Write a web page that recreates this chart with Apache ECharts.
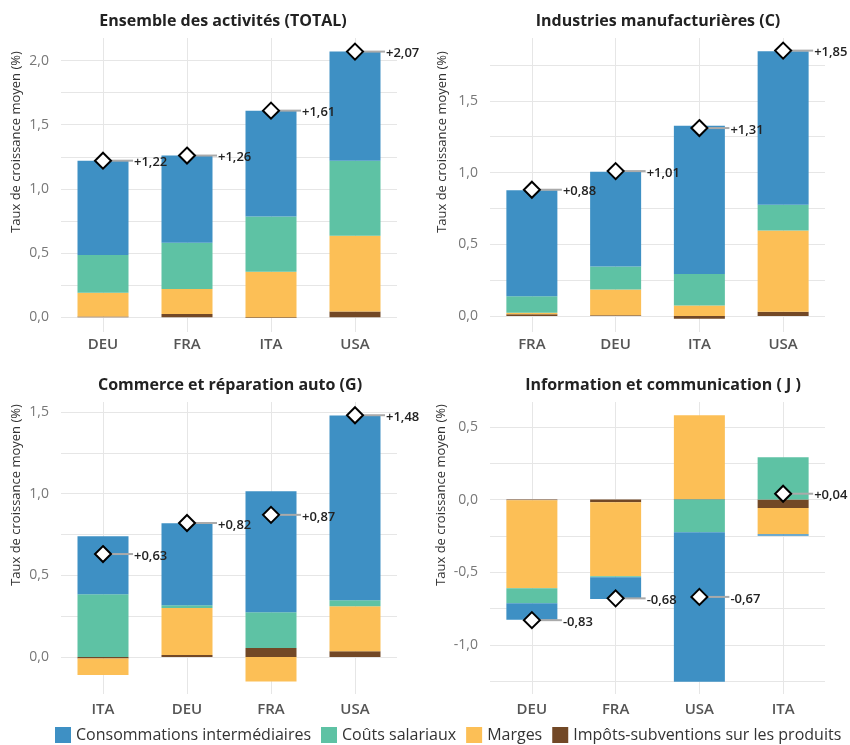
<!DOCTYPE html>
<html>
<head>
<meta charset="utf-8">
<script src="https://cdn.jsdelivr.net/npm/echarts@6/dist/echarts.min.js"></script>
<style>
  html, body { margin: 0; padding: 0; background: #fff; }
  #chart { width: 850px; height: 745px; }
</style>
</head>
<body>
<div id="chart"></div>
<script>
// Ensemble des activités (TOTAL)
var totCats = ['DEU', 'FRA', 'ITA', 'USA'];
var totCI = [0.735, 0.68, 0.825, 0.85];
var totSal = [0.295, 0.36, 0.43, 0.585];
var totMarges = [0.185, 0.195, 0.355, 0.59];
var totImpots = [0.005, 0.025, -0.005, 0.045];
var totSum = [1.22, 1.26, 1.61, 2.07];

// Industries manufacturières (C)
var indCats = ['FRA', 'DEU', 'ITA', 'USA'];
var indCI = [0.74, 0.66, 1.035, 1.07];
var indSal = [0.115, 0.16, 0.22, 0.18];
var indMarges = [0.01, 0.18, 0.072, 0.565];
var indImpots = [0.012, 0.005, -0.02, 0.03];
var indSum = [0.88, 1.01, 1.31, 1.85];

// Commerce et réparation auto (G)
var comCats = ['ITA', 'DEU', 'FRA', 'USA'];
var comCI = [0.355, 0.502, 0.741, 1.131];
var comSal = [0.384, 0.016, 0.219, 0.037];
var comMarges = [-0.1, 0.288, -0.15, 0.275];
var comImpots = [-0.01, 0.012, 0.055, 0.035];
var comSum = [0.63, 0.82, 0.87, 1.48];

// Information et communication (J)
var infCats = ['DEU', 'FRA', 'USA', 'ITA'];
var infCI = [-0.114, -0.149, -1.028, -0.011];
var infSal = [-0.104, -0.007, -0.225, 0.291];
var infMarges = [-0.605, -0.51, 0.577, -0.181];
var infImpots = [-0.005, -0.018, 0.003, -0.058];
var infSum = [-0.83, -0.68, -0.67, 0.04];

var names = ['Consommations intermédiaires', 'Coûts salariaux', 'Marges', 'Impôts-subventions sur les produits'];
var colors = ['#3e90c4', '#5ec2a4', '#fcbf56', '#724826'];
var font = '"Open Sans", "Noto Sans", sans-serif';

var panels = [
	{ title: 'Ensemble des activités (TOTAL)', cats: totCats, ci: totCI, sal: totSal, marges: totMarges, impots: totImpots, sum: totSum,
	  grid: { left: 61, top: 38, width: 336, height: 294 }, min: -0.115, max: 2.176, titleX: 218, titleY: 8, nameX: 16, nameY: 142, labelMargin: 5 },
	{ title: 'Industries manufacturières (C)', cats: indCats, ci: indCI, sal: indSal, marges: indMarges, impots: indImpots, sum: indSum,
	  grid: { left: 490, top: 38, width: 335, height: 294 }, min: -0.112, max: 1.938, titleX: 653, titleY: 8, nameX: 442, nameY: 142, labelMargin: 5 },
	{ title: 'Commerce et réparation auto (G)', cats: comCats, ci: comCI, sal: comSal, marges: comMarges, impots: comImpots, sum: comSum,
	  grid: { left: 61, top: 402, width: 336, height: 292 }, min: -0.227, max: 1.561, titleX: 225, titleY: 372, nameX: 16, nameY: 495, labelMargin: 8 },
	{ title: 'Information et communication ( J )', cats: infCats, ci: infCI, sal: infSal, marges: infMarges, impots: infImpots, sum: infSum,
	  grid: { left: 490, top: 402, width: 335, height: 292 }, min: -1.338, max: 0.671, titleX: 658, titleY: 372, nameX: 441, nameY: 495, labelMargin: 8 }
];

function fmtAxis(v) {
	var r = Math.round(v * 2) / 2;
	if (Math.abs(v - r) > 1e-6) return '';
	return r.toFixed(1).replace('.', ',');
}

function fmtTotal(v) {
	return (v >= 0 ? '+' : '-') + Math.abs(v).toFixed(2).replace('.', ',');
}

function renderMarker(params, api) {
	var p = api.coord([api.value(0), api.value(1)]);
	var s = 8;
	return {
		type: 'group',
		children: [
			{ type: 'line', shape: { x1: p[0], y1: p[1], x2: p[0] + 30, y2: p[1] }, style: { stroke: '#aaaaaa', lineWidth: 2 } },
			{ type: 'polygon', shape: { points: [[p[0], p[1] - s], [p[0] + s, p[1]], [p[0], p[1] + s], [p[0] - s, p[1]]] },
			  style: { fill: '#ffffff', stroke: '#000000', lineWidth: 2 } },
			{ type: 'text', x: p[0] + 31, y: p[1] + 2,
			  style: { text: fmtTotal(api.value(1)), fill: '#222222', font: '600 13px ' + font, verticalAlign: 'middle', align: 'left' } }
		]
	};
}

var titles = [], grids = [], xAxes = [], yAxes = [], series = [], graphics = [];
for (var i = 0; i < panels.length; i++) {
	var p = panels[i];
	titles.push({
		text: p.title, left: p.titleX, top: p.titleY, textAlign: 'center',
		textStyle: { fontFamily: font, fontSize: 16, fontWeight: 'bold', color: '#222' }
	});
	grids.push(p.grid);
	xAxes.push({
		type: 'category', gridIndex: i, data: p.cats,
		axisLine: { show: false }, axisTick: { show: false },
		axisLabel: { margin: p.labelMargin, fontFamily: font, fontSize: 15, fontWeight: 600, color: '#555' },
		splitLine: { show: true, alignWithLabel: true, lineStyle: { color: '#e6e6e6', width: 1 } }
	});
	yAxes.push({
		type: 'value', gridIndex: i, min: p.min, max: p.max,
		splitNumber: 4, minInterval: 0.5, maxInterval: 0.5,
		axisLine: { show: false }, axisTick: { show: false },
		axisLabel: { margin: 12, fontFamily: font, fontSize: 14, color: '#777', formatter: fmtAxis, showMinLabel: false, showMaxLabel: false },
		splitLine: { show: true, showMinLine: false, showMaxLine: false, lineStyle: { color: '#e6e6e6', width: 1 } },
		minorTick: { show: false, splitNumber: 2 },
		minorSplitLine: { show: true, lineStyle: { color: '#e6e6e6', width: 1 } }
	});
	var vals = [p.impots, p.marges, p.sal, p.ci];
	var order = [3, 2, 1, 0];
	for (var k = 0; k < vals.length; k++) {
		series.push({
			name: names[order[k]], type: 'bar', stack: 'p' + i,
			xAxisIndex: i, yAxisIndex: i, barWidth: 51,
			itemStyle: { color: colors[order[k]] },
			data: vals[k]
		});
	}
	series.push({
		type: 'custom', xAxisIndex: i, yAxisIndex: i, z: 10,
		renderItem: renderMarker,
		encode: { x: 0, y: 1 },
		data: p.sum.map(function (v, j) { return [j, v]; })
	});
	graphics.push({
		type: 'text', x: p.nameX, y: p.nameY, rotation: Math.PI / 2,
		style: { text: 'Taux de croissance moyen (%)', fill: '#333', font: '13px ' + font, align: 'center', verticalAlign: 'middle' }
	});
}

var myChart = echarts.init(document.getElementById('chart'), null, { renderer: 'canvas' });
var option = {
	animation: false,
	backgroundColor: '#fff',
	title: titles,
	grid: grids,
	xAxis: xAxes,
	yAxis: yAxes,
	legend: {
		data: names, left: 55, top: 727, width: 800, padding: 0, icon: 'rect',
		itemWidth: 16, itemHeight: 16, itemGap: 10,
		textStyle: { fontFamily: font, fontSize: 16, color: '#333' }
	},
	graphic: graphics,
	series: series
};
myChart.setOption(option);
</script>
</body>
</html>
